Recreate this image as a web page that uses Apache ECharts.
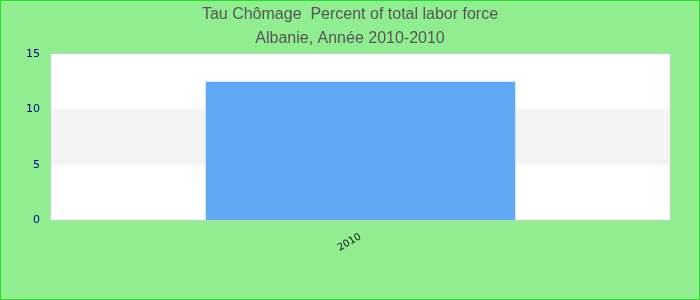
<!DOCTYPE html>
<html><head><meta charset="utf-8">
<script src="https://cdn.jsdelivr.net/npm/echarts@6/dist/echarts.min.js"></script>
<style>html,body{margin:0;padding:0;}#c{width:700px;height:300px;box-sizing:border-box;border:1px solid #22e022;background:#90ee90;}</style>
</head><body><div id="c"></div>
<script>
const categories = ['2010'];
const values = [12.5];
const yTicks = [0, 5, 10, 15];
const chart = echarts.init(document.getElementById('c'));
chart.setOption({
  backgroundColor: '#90ee90',
  animation: false,
  title: {
    text: 'Tau Chômage  Percent of total labor force\nAlbanie, Année 2010-2010',
    left: 'center', top: -3,
    textStyle: { color: '#555', fontSize: 16, fontWeight: 'normal', fontFamily: 'Liberation Sans, Arial', lineHeight: 24 }
  },
  grid: { left: 50, right: 29, top: 53, bottom: 79, show: true, backgroundColor: '#fff', borderColor: '#ccc', borderWidth: 1 },
  xAxis: {
    type: 'category', data: categories,
    axisLine: { show: false }, axisTick: { show: false },
    axisLabel: { rotate: 30, color: '#111', fontSize: 10, fontFamily: 'DejaVu Sans', margin: 16 }
  },
  yAxis: {
    type: 'value', min: yTicks[0], max: yTicks[yTicks.length - 1], interval: 5,
    axisLine: { show: false }, axisTick: { show: false },
    splitLine: { show: false },
    splitArea: { show: true, areaStyle: { color: ['#ffffff', '#f3f3f3'] } },
    axisLabel: { color: '#00008b', fontSize: 11, fontFamily: 'DejaVu Sans', margin: 11 }
  },
  series: [{ type: 'bar', data: values, barWidth: '50%', itemStyle: { color: '#61a8f5' } }]
});
</script></body></html>
